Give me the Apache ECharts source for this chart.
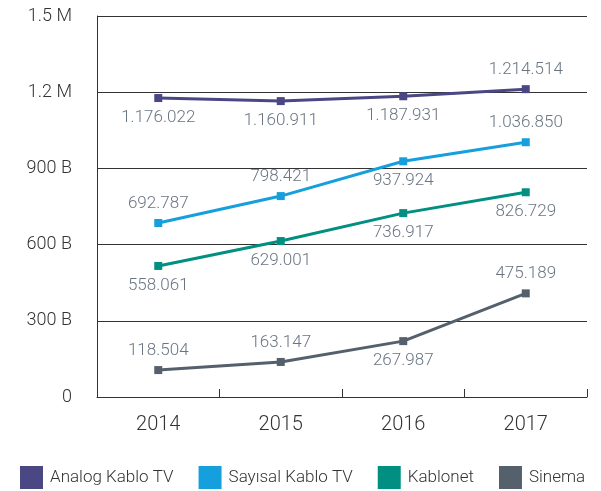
<!DOCTYPE html>
<html>
<head>
<meta charset="utf-8">
<script src="https://cdn.jsdelivr.net/npm/echarts@6/dist/echarts.min.js"></script>
<style>
  html, body { margin: 0; padding: 0; background: #fff; }
  #chart { width: 601px; height: 491px; }
</style>
</head>
<body>
<div id="chart"></div>
<script>
const years = ['2014', '2015', '2016', '2017']
const yTicks = ['0', '300 B', '600 B', '900 B', '1.2 M', '1.5 M']

// plotted positions
const analog = [1177000, 1165000, 1184000, 1212000]
const sayisal = [685000, 791000, 928000, 1003000]
const kablonet = [516000, 614000, 724000, 806000]
const sinema = [106000, 138000, 220000, 408000]

// printed value labels
const analogText = ['1.176.022', '1.160.911', '1.187.931', '1.214.514']
const sayisalText = ['692.787', '798.421', '937.924', '1.036.850']
const kablonetText = ['558.061', '629.001', '736.917', '826.729']
const sinemaText = ['118.504', '163.147', '267.987', '475.189']

// where each label sits (t = above, b = below)
const places = {
  analog: ['b', 'b', 'b', 't'],
  sayisal: ['t', 't', 'b', 't'],
  kablonet: ['b', 'b', 'b', 'b'],
  sinema: ['t', 't', 'b', 't'],
}

const makeSeries = (name, values, texts, place, color) => ({
  name: name,
  type: 'line',
  symbol: 'rect',
  symbolSize: 8,
  lineStyle: { color: color, width: 3 },
  itemStyle: { color: color },
  data: values.map((v, i) => ({
    value: v,
    label: { position: place[i] === 't' ? 'top' : 'bottom' },
  })),
  label: {
    show: true,
    distance: 7,
    color: '#6a7582',
    fontSize: 17,
    fontFamily: 'Roboto',
    fontWeight: 300,
    formatter: p => texts[p.dataIndex],
  },
})

const chart = echarts.init(document.getElementById('chart'))
chart.setOption({
  animation: false,
  grid: { left: 97, right: 14, top: 16, bottom: 94 },
  legend: {
    bottom: 2,
    left: 20,
    padding: 0,
    itemWidth: 23,
    itemHeight: 23,
    itemGap: 25,
    icon: 'rect',
    textStyle: { color: '#333', fontSize: 17, fontFamily: 'Roboto', fontWeight: 300, padding: [0, 0, 0, 2] },
    data: ['Analog Kablo TV', 'Sayısal Kablo TV', 'Kablonet', 'Sinema'],
  },
  xAxis: {
    type: 'category',
    data: years,
    axisLine: { lineStyle: { color: '#333', width: 1 } },
    axisTick: { show: true, inside: true, length: 8, lineStyle: { color: '#333' } },
    axisLabel: { color: '#333', fontSize: 20, fontFamily: 'Roboto', fontWeight: 300, margin: 18 },
  },
  yAxis: {
    type: 'value',
    min: 0,
    max: 1500000,
    interval: 300000,
    axisLine: { show: true, lineStyle: { color: '#333', width: 1 } },
    axisTick: { show: false },
    splitLine: { lineStyle: { color: '#333', width: 1 } },
    axisLabel: {
      color: '#333',
      fontSize: 18,
      fontFamily: 'Roboto',
      fontWeight: 300,
      margin: 25,
      formatter: (v) => yTicks[Math.round(v / 300000)],
    },
  },
  series: [
    makeSeries('Analog Kablo TV', analog, analogText, places.analog, '#4b4785'),
    makeSeries('Sayısal Kablo TV', sayisal, sayisalText, places.sayisal, '#159fdc'),
    makeSeries('Kablonet', kablonet, kablonetText, places.kablonet, '#008f80'),
    makeSeries('Sinema', sinema, sinemaText, places.sinema, '#54606b'),
  ],
})
window.onresize = function () {
  chart.resize()
}
</script>
</body>
</html>
